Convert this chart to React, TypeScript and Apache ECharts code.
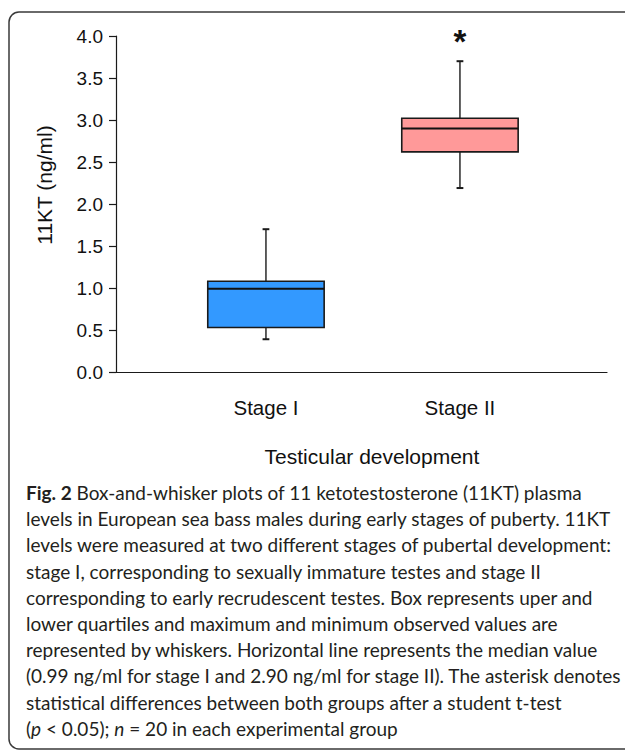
import React, { useEffect, useRef } from "react";
import * as echarts from "echarts";

// ---- data ----
const categories = ["Stage I", "Stage II"];
const positions = [1, 2];
const minValues = [0.39, 2.19];
const q1Values = [0.53, 2.62];
const medianValues = [0.99, 2.9];
const q3Values = [1.08, 3.02];
const maxValues = [1.7, 3.7];
const boxColors = ["#3399ff", "#ff9999"];
const significance = ["", "*"];
const yTickValues = [0, 0.5, 1, 1.5, 2, 2.5, 3, 3.5, 4];
const yAxisTitle = "11KT (ng/ml)";
const xAxisTitle = "Testicular development";
const captionLines = [
  "{b|Fig. 2} Box-and-whisker plots of 11 ketotestosterone (11KT) plasma",
  "levels in European sea bass males during early stages of puberty. 11KT",
  "levels were measured at two different stages of pubertal development:",
  "stage I, corresponding to sexually immature testes and stage II",
  "corresponding to early recrudescent testes. Box represents uper and",
  "lower quartiles and maximum and minimum observed values are",
  "represented by whiskers. Horizontal line represents the median value",
  "(0.99 ng/ml for stage I and 2.90 ng/ml for stage II). The asterisk denotes",
  "statistical differences between both groups after a student t-test",
  "({i|p} < 0.05); {i|n} = 20 in each experimental group",
];

const BOX_WIDTH = 0.6;
const CAP_WIDTH = 0.035;
const CHART_FONT = "'Liberation Sans', Arial, sans-serif";
const CAPTION_FONT = "Lato, 'Open Sans', sans-serif";

export default function App() {
  const ref = useRef<HTMLDivElement>(null);

  useEffect(() => {
    if (!ref.current) return;
    const chart = echarts.init(ref.current, undefined, { renderer: "svg" });

    const boxData = positions.map((p, i) => [
      p,
      minValues[i],
      q1Values[i],
      medianValues[i],
      q3Values[i],
      maxValues[i],
    ]);

    const lineStyle = { stroke: "#1a1a1a", lineWidth: 1.4 };

    const captionElements = captionLines.map((line, i) => ({
      type: "text",
      left: 26,
      top: 483 + i * 26.2,
      style: {
        text: line,
        fontFamily: CAPTION_FONT,
        fontSize: 19,
        fill: "#231f20",
        rich: {
          b: { fontWeight: "bold", fontFamily: CAPTION_FONT, fontSize: 19, fill: "#231f20" },
          i: { fontStyle: "italic", fontFamily: CAPTION_FONT, fontSize: 19, fill: "#231f20" },
        },
      },
    }));

    chart.setOption({
      animation: false,
      backgroundColor: "#ffffff",
      grid: { left: 116, right: 18, top: 36, bottom: 379, containLabel: false },
      xAxis: {
        type: "value",
        min: 0.227,
        max: 2.758,
        splitLine: { show: false },
        axisLine: { show: true, lineStyle: { color: "#1a1a1a", width: 1.2 } },
        axisTick: { show: false },
        axisLabel: {
          show: true,
          customValues: positions,
          margin: 25,
          fontSize: 20.5,
          fontFamily: CHART_FONT,
          color: "#111",
          formatter: (v: number) => categories[positions.indexOf(v)] ?? "",
        },
      },
      yAxis: {
        type: "value",
        min: 0,
        max: 4,
        interval: 0.5,
        splitLine: { show: false },
        axisLine: { show: true, lineStyle: { color: "#1a1a1a", width: 1.2 } },
        axisTick: { show: true, length: 7, lineStyle: { color: "#1a1a1a", width: 1.2 } },
        axisLabel: {
          margin: 13,
          fontSize: 19,
          fontFamily: CHART_FONT,
          color: "#111",
          formatter: (v: number) => (yTickValues.includes(v) ? v.toFixed(1) : ""),
        },
      },
      series: [
        {
          type: "custom",
          data: boxData,
          encode: { x: 0, y: [1, 2, 3, 4, 5] },
          renderItem: (params: any, api: any) => {
            const x = api.value(0);
            const lo = api.coord([x, api.value(1)]);
            const q1 = api.coord([x, api.value(2)]);
            const med = api.coord([x, api.value(3)]);
            const q3 = api.coord([x, api.value(4)]);
            const hi = api.coord([x, api.value(5)]);
            const halfW = api.size([BOX_WIDTH, 0])[0] / 2;
            const capW = api.size([CAP_WIDTH, 0])[0] / 2;
            const i = params.dataIndex;
            const children: any[] = [
              { type: "line", shape: { x1: hi[0], y1: hi[1], x2: q3[0], y2: q3[1] }, style: lineStyle },
              { type: "line", shape: { x1: lo[0], y1: lo[1], x2: q1[0], y2: q1[1] }, style: lineStyle },
              { type: "line", shape: { x1: hi[0] - capW, y1: hi[1], x2: hi[0] + capW, y2: hi[1] }, style: { ...lineStyle, lineWidth: 2 } },
              { type: "line", shape: { x1: lo[0] - capW, y1: lo[1], x2: lo[0] + capW, y2: lo[1] }, style: { ...lineStyle, lineWidth: 2 } },
              {
                type: "rect",
                shape: { x: q3[0] - halfW, y: q3[1], width: halfW * 2, height: q1[1] - q3[1] },
                style: { fill: boxColors[i], stroke: "#1a1a1a", lineWidth: 1.6 },
              },
              { type: "line", shape: { x1: med[0] - halfW, y1: med[1], x2: med[0] + halfW, y2: med[1] }, style: { stroke: "#111", lineWidth: 2 } },
            ];
            if (significance[i]) {
              const top = api.coord([x, 4]);
              children.push({
                type: "text",
                x: top[0],
                y: top[1] + 5,
                style: {
                  text: significance[i],
                  fontSize: 33,
                  fontWeight: "bold",
                  fontFamily: CHART_FONT,
                  fill: "#111",
                  align: "center",
                  verticalAlign: "middle",
                },
              });
            }
            return { type: "group", children };
          },
        },
      ],
      graphic: [
        {
          type: "rect",
          shape: { x: 9, y: 12, width: 640, height: 737, r: 10 },
          style: { fill: "none", stroke: "#3a3a3a", lineWidth: 1.5 },
          silent: true,
        },
        {
          type: "text",
          x: 44.7,
          y: 185,
          rotation: Math.PI / 2,
          style: {
            text: yAxisTitle,
            fontSize: 21,
            fontFamily: CHART_FONT,
            fill: "#111",
            align: "center",
            verticalAlign: "middle",
          },
        },
        {
          type: "text",
          x: 372,
          y: 456,
          style: {
            text: xAxisTitle,
            fontSize: 21,
            fontFamily: CHART_FONT,
            fill: "#111",
            align: "center",
            verticalAlign: "middle",
          },
        },
        ...captionElements,
      ],
    });

    return () => chart.dispose();
  }, []);

  return (
    <div
      ref={ref}
      style={{ position: "absolute", left: 0, top: 0, width: 625, height: 751 }}
    />
  );
}
